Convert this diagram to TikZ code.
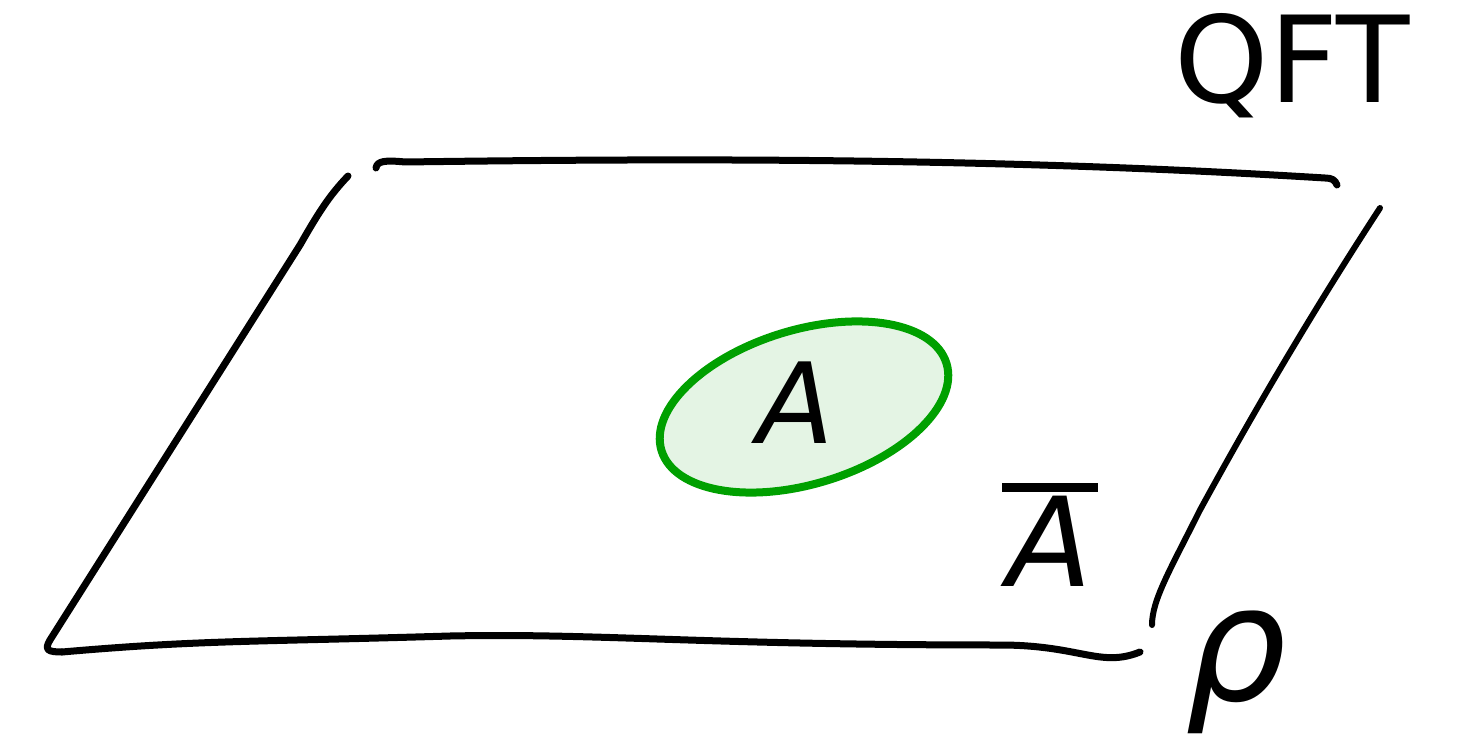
\RequirePackage{fix-cm}
\documentclass[tikz,border=0pt]{standalone}
\usepackage{fontspec}
\newfontfamily\handfont{DejaVu Sans}
\usetikzlibrary{shapes.geometric}
\definecolor{regionline}{RGB}{0,160,0}
\definecolor{regionfill}{RGB}{228,244,228}
\tikzset{
  sketch/.style={line width=7pt, line cap=round, line join=round, black},
  region/.style={ellipse, draw=regionline, fill=regionfill, line width=8pt,
     minimum width=298pt, minimum height=154pt, inner sep=0pt},
  bigtext/.style={inner sep=0pt, text=black}
}
\begin{document}
\begin{tikzpicture}[x=1pt,y=-1pt]
\useasboundingbox (0,0) rectangle (1465,741);
% plane edges
\draw[sketch] (376,168) .. controls (377,161) and (385,160) .. (405,162)
   .. controls (700,158) and (1000,158) .. (1325,178)
   .. controls (1332,178) and (1335,180) .. (1337,185);
\draw[sketch] (348,176) .. controls (330,195) and (320,210) .. (300,245)
   -- (50,640) .. controls (44,650) and (48,652) .. (62,652);
\draw[sketch] (62,652) .. controls (200,640) and (250,642) .. (450,636)
   .. controls (600,633) and (700,645) .. (1000,645)
   .. controls (1080,645) and (1100,668) .. (1140,652);
\draw[sketch, line width=6pt] (1380,208) .. controls (1320,300) and (1260,400) .. (1200,510)
   .. controls (1170,570) and (1152,600) .. (1152,625);
% region A
\node[region, rotate=17] (regA) at (804,407) {};
\node[bigtext, font=\handfont\itshape\fontsize{112}{112}\selectfont] (labA) at (796,403) {A};
% complement
\node[bigtext, anchor=north, align=center, font=\handfont\itshape\fontsize{124}{124}\selectfont]
   (labAbar) at (1050,483) {\rule{96pt}{9pt}\\[-30pt]A};
% rho
\node[bigtext, font=\handfont\itshape\fontsize{160}{160}\selectfont] (labrho) at (1236,672) {ρ};
% QFT
\node[bigtext, font=\handfont\fontsize{120}{120}\selectfont] (labQFT) at (1292,66) {QFT};
\end{tikzpicture}
\end{document}
